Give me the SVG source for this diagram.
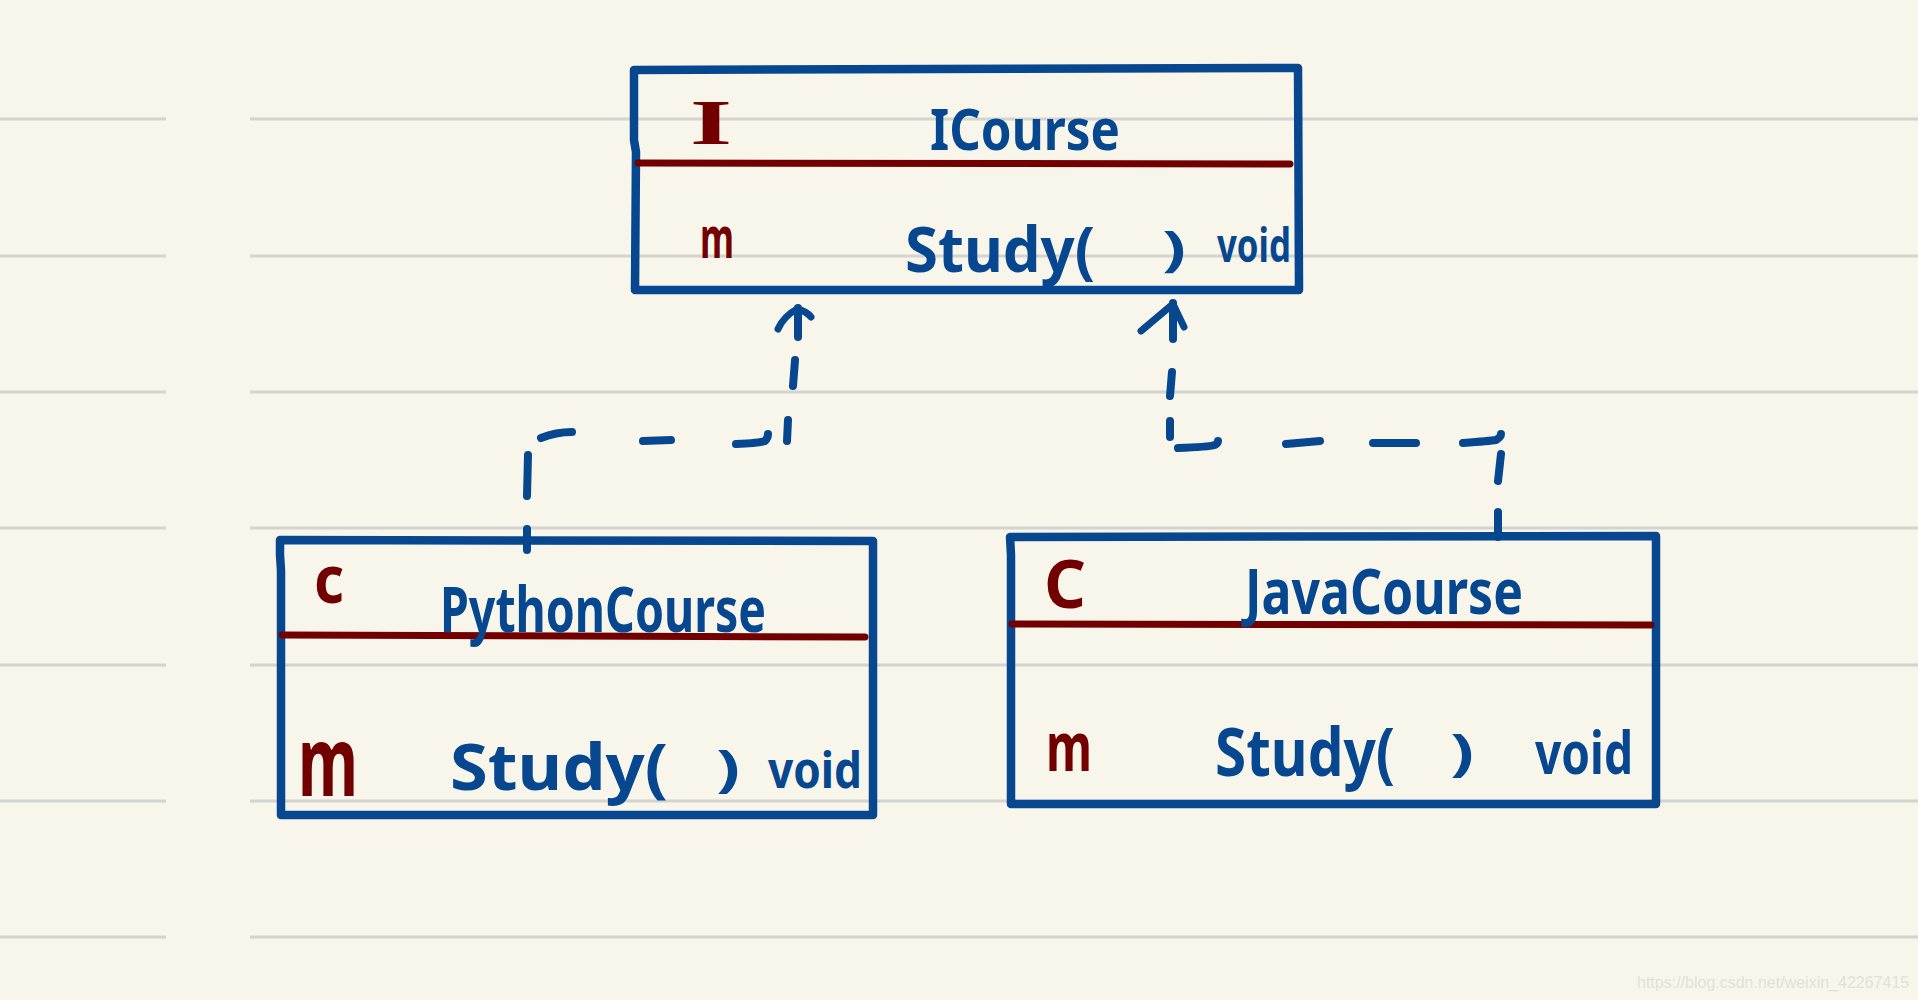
<svg xmlns="http://www.w3.org/2000/svg" width="1918" height="1000" viewBox="0 0 1918 1000">
<defs>
<style>
.rule{stroke:#d3d3cf;stroke-width:3}
.box{fill:none;stroke:#07478f;stroke-width:8.5;stroke-linejoin:round;stroke-linecap:round}
.div{fill:none;stroke:#730000;stroke-width:7;stroke-linecap:round}
.edge{fill:none;stroke:#07478f;stroke-width:8;stroke-linecap:round;stroke-linejoin:round}
.head{fill:none;stroke:#07478f;stroke-width:7;stroke-linecap:round;stroke-linejoin:round}
.t{font-family:"Noto Sans","DejaVu Sans",sans-serif;font-weight:bold;fill:#07478f}
.r{font-family:"Noto Sans","DejaVu Sans",sans-serif;font-weight:bold;fill:#730000}
.ri{font-family:"Liberation Serif",serif;font-weight:bold;fill:#730000}
.wm{font-family:"Liberation Sans",Arial,sans-serif;font-size:16px;fill:#e2e1d8}
</style>
</defs>
<rect width="1918" height="1000" fill="#f8f6eb"/>
<g id="ruling">
<path class="rule" d="M0 119H166M250 119H1918M0 256H166M250 256H1918M0 392H166M250 392H1918M0 528H166M250 528H1918M0 665H166M250 665H1918M0 801H166M250 801H1918M0 937H166M250 937H1918"/>
</g>
<g id="connectors">
<path class="edge" d="M527 529L527 550M528 455L527 496M541 438Q556 432 572 432M643 441L671 440M736 444Q760 443 765 441Q768 438 768 434M788 420L787 441M795 360L793 386M798 337L798 308"/>
<path class="head" d="M778 329Q784 316 797 309Q806 311 811 317"/>
<path class="edge" d="M1498 512L1498 537M1501 454L1498 481M1463 443Q1490 441 1496 440Q1501 437 1501 434M1373 443L1416 443M1286 444L1320 441M1178 448Q1208 447 1215 445Q1218 443 1218 441M1170 421L1170 437M1172 372L1170 396M1173 339L1173 303"/>
<path class="head" d="M1141 331L1173 304L1184 327"/>
</g>
<g id="ICourse">
<path class="box" d="M634 70L1298 68L1299 290L635 290L636 152L634 140Z"/>
<path class="div" d="M638 163L1290 164"/>
<text class="ri" x="690" y="144" font-size="64" textLength="42" lengthAdjust="spacingAndGlyphs">I</text>
<text class="t" x="930" y="150" font-size="58" textLength="190" lengthAdjust="spacingAndGlyphs">ICourse</text>
<text class="r" x="700" y="258" font-size="58" textLength="34" lengthAdjust="spacingAndGlyphs">m</text>
<text class="t" x="905" y="272" font-size="62" textLength="190" lengthAdjust="spacingAndGlyphs">Study(</text>
<text class="t" x="1162" y="266" font-size="48" textLength="24" lengthAdjust="spacingAndGlyphs">)</text>
<text class="t" x="1217" y="262" font-size="46" textLength="74" lengthAdjust="spacingAndGlyphs">void</text>
</g>
<g id="PythonCourse">
<path class="box" d="M280 540L873 541L873 815L281 815L281 570L280 555Z"/>
<path class="div" d="M282 635L865 637"/>
<text class="r" x="314" y="603" font-size="66" textLength="30" lengthAdjust="spacingAndGlyphs">c</text>
<text class="t" x="440" y="632" font-size="62" textLength="326" lengthAdjust="spacingAndGlyphs">PythonCourse</text>
<text class="r" x="298" y="796" font-size="96" textLength="60" lengthAdjust="spacingAndGlyphs">m</text>
<text class="t" x="450" y="790" font-size="64" textLength="218" lengthAdjust="spacingAndGlyphs">Study(</text>
<text class="t" x="716" y="786" font-size="50" textLength="24" lengthAdjust="spacingAndGlyphs">)</text>
<text class="t" x="768" y="788" font-size="50" textLength="94" lengthAdjust="spacingAndGlyphs">void</text>
</g>
<g id="JavaCourse">
<path class="box" d="M1010 537L1656 536L1656 804L1011 804L1011 555Z"/>
<path class="div" d="M1012 624L1651 625"/>
<text class="r" x="1044" y="608" font-size="66" textLength="42" lengthAdjust="spacingAndGlyphs">C</text>
<text class="t" x="1245" y="614" font-size="62" textLength="278" lengthAdjust="spacingAndGlyphs">JavaCourse</text>
<text class="r" x="1046" y="771" font-size="68" textLength="46" lengthAdjust="spacingAndGlyphs">m</text>
<text class="t" x="1215" y="776" font-size="66" textLength="180" lengthAdjust="spacingAndGlyphs">Study(</text>
<text class="t" x="1450" y="770" font-size="50" textLength="24" lengthAdjust="spacingAndGlyphs">)</text>
<text class="t" x="1535" y="774" font-size="60" textLength="98" lengthAdjust="spacingAndGlyphs">void</text>
</g>
<text class="wm" x="1637" y="988">https://blog.csdn.net/weixin_42267415</text>
</svg>
